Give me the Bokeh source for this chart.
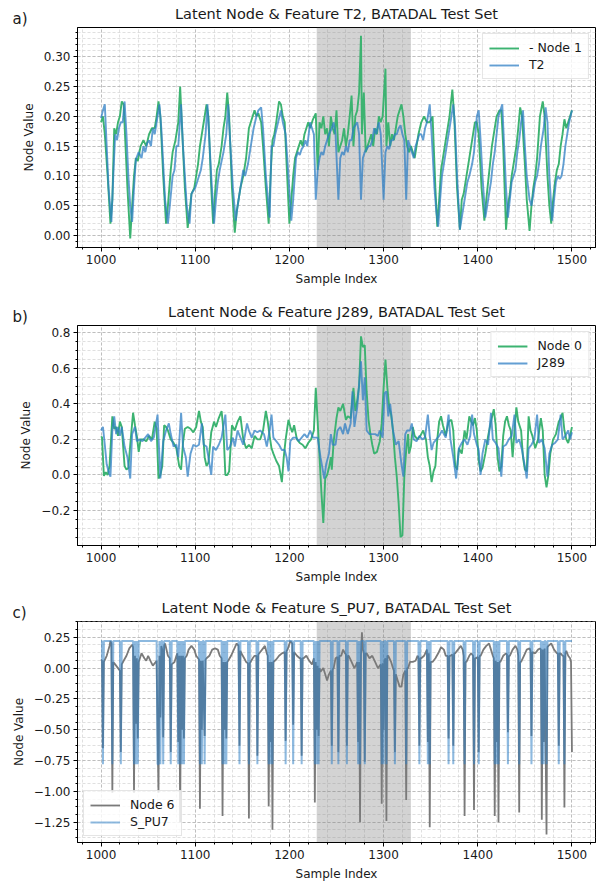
from bokeh.plotting import figure
from bokeh.layouts import column
from bokeh.models import (Range1d, SingleIntervalTicker, CustomJSTickFormatter,
                          BoxAnnotation, Title)
from bokeh.embed import file_html
from bokeh.resources import INLINE

# ---------------- data: panel a (T2) ----------------
a_node1_x = [1000,1002,1004,1007,1010,1012,1014,1016,1018,1020,1022,1024,1026,1028,1031,1033,1035,1037,1039,1042,
             1045,1048,1051,1054,1057,1059,1061,1063,1066,1069,1071,1074,1076,1079,1082,1084,1086,1089,1092,1094,
             1096,1099,1101,1103,1105,1108,1110,1112,1114,1117,1119,1121,1123,1125,1128,1130,1132,1134,1136,1139,
             1142,1144,1146,1148,1151,1154,1157,1159,1161,1163,1165,1167,1170,1172,1175,1178,1180,1182,1184,1186,
             1189,1191,1193,1195,1197,1200,1202,1204,1206,1208,1210,1212,1214,1216,1218,1220,1222,1225,1228,1230,
             1232,1234,1236,1238,1240,1242,1244,1246,1248,1250,1252,1254,1256,1258,1260,1262,1264,1266,1268,1270,
             1272,1274,1276,1277,1279,1281,1283,1285,1287,1289,1291,1293,1295,1297,1299,1302,1303,1305,1307,1309,
             1311,1313,1315,1317,1319,1321,1323,1325,1327,1329,1331,1333,1335,1337,1340,1343,1346,1349,1352,1355,
             1357,1359,1361,1363,1365,1367,1370,1373,1375,1378,1381,1383,1385,1388,1390,1393,1395,1397,1399,1401,
             1404,1407,1409,1411,1413,1415,1417,1420,1423,1425,1427,1430,1432,1434,1436,1438,1441,1443,1445,1447,
             1450,1452,1455,1457,1459,1461,1463,1466,1469,1471,1474,1476,1478,1480,1482,1484,1486,1488,1490,1492,
             1494,1496,1498,1500]
a_node1_y = [0.19,0.20,0.17,0.10,0.02,0.06,0.18,0.17,0.19,0.20,0.225,0.22,0.15,0.08,-0.005,0.05,0.10,0.13,0.125,0.15,
             0.16,0.15,0.17,0.18,0.18,0.20,0.225,0.20,0.10,0.02,0.05,0.11,0.14,0.16,0.19,0.25,0.18,0.08,0.013,0.04,
             0.07,0.08,0.10,0.12,0.15,0.18,0.20,0.22,0.20,0.08,0.02,0.07,0.11,0.12,0.15,0.18,0.20,0.24,0.20,0.08,
             0.005,0.04,0.06,0.08,0.10,0.13,0.18,0.19,0.20,0.21,0.20,0.205,0.19,0.15,0.08,0.02,0.10,0.16,0.17,0.19,
             0.225,0.22,0.20,0.19,0.12,0.02,0.06,0.10,0.13,0.14,0.15,0.16,0.15,0.17,0.18,0.19,0.18,0.195,0.205,0.11,
             0.19,0.18,0.20,0.17,0.18,0.15,0.20,0.18,0.17,0.21,0.14,0.15,0.16,0.18,0.15,0.17,0.20,0.235,0.15,0.20,
             0.21,0.24,0.335,0.17,0.24,0.14,0.15,0.16,0.17,0.15,0.18,0.17,0.20,0.19,0.20,0.28,0.15,0.19,0.15,0.17,
             0.16,0.18,0.20,0.21,0.22,0.20,0.17,0.15,0.14,0.15,0.14,0.13,0.15,0.17,0.19,0.20,0.19,0.19,0.20,0.08,
             0.015,0.06,0.11,0.13,0.15,0.17,0.20,0.245,0.20,0.08,0.01,0.06,0.07,0.10,0.12,0.15,0.17,0.19,0.19,0.17,
             0.08,0.025,0.06,0.09,0.12,0.15,0.17,0.20,0.21,0.21,0.15,0.01,0.05,0.07,0.10,0.12,0.15,0.18,0.215,0.20,
             0.12,0.06,0.008,0.05,0.08,0.10,0.13,0.20,0.225,0.20,0.10,0.05,0.02,0.06,0.09,0.11,0.12,0.15,0.17,0.195,
             0.18,0.19,0.20,0.21]
a_t2_x = [1000,1002,1004,1006,1008,1011,1013,1015,1017,1019,1021,1023,1025,1027,1029,1031,1033,1035,1037,1040,
          1043,1045,1047,1049,1051,1053,1055,1057,1059,1062,1064,1066,1068,1071,1073,1076,1078,1080,1082,1085,
          1087,1089,1091,1094,1096,1098,1100,1102,1104,1106,1108,1111,1113,1115,1117,1120,1122,1124,1126,1128,
          1130,1133,1135,1137,1140,1143,1145,1147,1149,1151,1153,1156,1159,1162,1165,1167,1170,1172,1175,1179,
          1181,1183,1185,1188,1191,1193,1196,1199,1202,1204,1207,1209,1211,1213,1215,1217,1219,1222,1224,1226,
          1228,1230,1232,1234,1236,1238,1240,1242,1245,1247,1249,1252,1254,1256,1258,1260,1262,1264,1266,1268,
          1270,1272,1274,1276,1278,1280,1282,1284,1286,1288,1290,1292,1295,1297,1300,1302,1304,1306,1308,1310,
          1312,1314,1316,1318,1320,1322,1324,1326,1328,1330,1332,1334,1336,1338,1340,1342,1344,1346,1349,1351,
          1354,1356,1358,1360,1362,1364,1366,1368,1370,1372,1374,1376,1378,1381,1383,1385,1387,1389,1391,1394,
          1396,1399,1401,1403,1405,1408,1410,1412,1414,1416,1418,1420,1422,1424,1426,1428,1430,1432,1434,1436,
          1438,1440,1442,1444,1446,1448,1450,1452,1455,1457,1459,1461,1463,1465,1467,1470,1472,1474,1476,1479,
          1481,1483,1485,1487,1489,1491,1493,1495,1497,1500]
a_t2_y = [0.197,0.21,0.22,0.15,0.08,0.023,0.10,0.17,0.16,0.18,0.19,0.19,0.225,0.17,0.10,0.05,0.023,0.08,0.128,0.14,
          0.13,0.15,0.14,0.155,0.16,0.15,0.18,0.17,0.19,0.22,0.18,0.12,0.06,0.02,0.05,0.10,0.11,0.15,0.15,0.22,
          0.15,0.10,0.05,0.02,0.07,0.075,0.08,0.09,0.10,0.11,0.13,0.17,0.22,0.16,0.10,0.02,0.06,0.09,0.11,0.125,
          0.14,0.17,0.22,0.16,0.08,0.025,0.05,0.07,0.09,0.11,0.10,0.12,0.15,0.18,0.20,0.21,0.215,0.18,0.10,0.03,
          0.15,0.15,0.17,0.19,0.21,0.19,0.17,0.10,0.025,0.06,0.13,0.14,0.135,0.145,0.15,0.16,0.15,0.19,0.18,0.17,
          0.06,0.11,0.13,0.14,0.135,0.15,0.16,0.17,0.18,0.19,0.17,0.06,0.13,0.14,0.135,0.15,0.14,0.16,0.16,0.18,
          0.185,0.19,0.17,0.06,0.13,0.14,0.145,0.15,0.15,0.16,0.18,0.17,0.19,0.17,0.06,0.14,0.15,0.145,0.16,0.16,
          0.17,0.17,0.18,0.185,0.17,0.16,0.06,0.16,0.15,0.14,0.13,0.15,0.16,0.17,0.17,0.16,0.18,0.19,0.22,0.17,
          0.08,0.04,0.015,0.06,0.10,0.12,0.14,0.16,0.18,0.20,0.22,0.18,0.10,0.01,0.03,0.05,0.07,0.09,0.10,0.12,
          0.14,0.20,0.21,0.16,0.10,0.03,0.05,0.07,0.09,0.12,0.14,0.17,0.20,0.21,0.22,0.15,0.08,0.03,0.06,0.09,
          0.10,0.11,0.14,0.16,0.19,0.21,0.15,0.10,0.06,0.05,0.07,0.09,0.10,0.12,0.15,0.18,0.215,0.19,0.10,0.025,
          0.06,0.09,0.10,0.095,0.10,0.12,0.15,0.17,0.19,0.21]

# ---------------- data: panel b (J289) ----------------
b_node0_x = [1000,1001,1003,1005,1007,1009,1012,1014,1016,1018,1020,1022,1025,1027,1029,1031,1034,1036,1038,1040,
             1042,1045,1048,1051,1054,1057,1059,1061,1063,1065,1067,1069,1071,1074,1077,1080,1083,1085,1087,1089,
             1092,1095,1098,1101,1104,1106,1108,1110,1112,1114,1117,1120,1122,1125,1128,1130,1132,1134,1136,1139,
             1142,1145,1148,1151,1154,1157,1160,1163,1166,1169,1172,1175,1177,1179,1181,1183,1186,1189,1192,1194,
             1196,1199,1201,1203,1205,1208,1211,1214,1217,1220,1223,1226,1228,1230,1232,1234,1236,1238,1240,1242,
             1244,1245,1247,1250,1252,1254,1257,1260,1262,1265,1268,1270,1272,1274,1276,1278,1280,1282,1284,1286,
             1288,1290,1293,1296,1298,1300,1302,1304,1306,1308,1310,1312,1314,1316,1318,1320,1322,1324,1326,1327,
             1329,1331,1333,1336,1339,1342,1345,1347,1349,1351,1353,1355,1357,1359,1361,1363,1366,1369,1372,1374,
             1376,1378,1380,1383,1386,1388,1391,1393,1395,1397,1399,1401,1403,1405,1408,1411,1414,1417,1419,1421,
             1423,1425,1427,1429,1431,1433,1435,1437,1439,1441,1443,1446,1448,1450,1452,1454,1456,1458,1461,1464,
             1467,1469,1471,1473,1475,1477,1480,1483,1486,1488,1490,1492,1494,1496,1498,1500]
b_node0_y = [0.21,0.215,-0.005,0.015,0.0,0.05,0.33,0.26,0.27,0.22,0.30,0.27,0.05,0.03,0.04,0.17,0.35,0.28,0.22,0.13,
             0.20,0.20,0.19,0.22,0.20,0.30,0.26,-0.02,0.0,0.05,0.28,0.27,0.25,0.20,0.18,0.15,0.05,0.03,0.18,0.26,
             0.27,0.26,0.24,0.27,0.36,0.30,0.27,0.10,0.05,0.07,0.24,0.30,0.27,0.32,0.36,0.25,0.0,0.0,0.02,0.28,
             0.25,0.30,0.33,0.20,0.15,0.17,0.15,0.22,0.20,0.20,0.25,0.36,0.30,0.22,0.15,0.12,0.08,0.05,-0.04,0.10,
             0.20,0.31,0.27,0.24,0.28,0.20,0.18,0.17,0.15,0.18,0.20,0.25,0.49,0.30,0.10,-0.10,-0.27,-0.02,0.0,0.04,
             0.10,0.03,0.19,0.32,0.38,0.36,0.40,0.31,0.33,0.32,0.49,0.36,0.42,0.50,0.78,0.72,0.73,0.47,0.31,0.23,
             0.17,0.12,0.13,0.19,0.29,0.49,0.65,0.49,0.38,0.34,0.25,0.10,-0.01,-0.16,-0.35,-0.34,-0.01,0.14,0.23,0.12,
             0.16,0.27,0.22,0.20,0.22,0.25,0.20,0.10,0.05,-0.04,0.02,0.05,0.20,0.30,0.33,0.28,0.22,0.30,0.31,0.25,
             0.05,0.03,0.15,0.12,0.25,0.20,0.33,0.30,0.28,0.32,0.25,0.08,0.02,0.04,0.12,0.22,0.30,0.37,0.28,0.10,
             0.02,0.05,0.22,0.30,0.33,0.28,0.25,0.10,0.25,0.38,0.30,0.25,0.10,0.03,0.02,0.33,0.25,0.22,0.15,0.20,
             0.32,0.25,0.0,-0.07,0.0,0.12,0.20,0.23,0.30,0.32,0.35,0.25,0.20,0.18,0.22,0.27]
b_j289_x = [1000,1002,1004,1006,1008,1010,1012,1014,1016,1018,1020,1022,1025,1028,1031,1033,1036,1038,1041,1044,
            1047,1050,1053,1056,1060,1063,1066,1069,1072,1074,1077,1080,1082,1085,1087,1090,1092,1095,1098,1101,
            1104,1107,1109,1112,1114,1117,1119,1122,1125,1128,1132,1134,1137,1140,1142,1145,1148,1151,1155,1157,
            1160,1163,1166,1169,1173,1176,1179,1181,1183,1186,1189,1192,1195,1197,1199,1201,1204,1207,1210,1213,
            1216,1219,1222,1225,1228,1230,1233,1237,1239,1242,1244,1246,1249,1251,1254,1257,1259,1262,1265,1267,
            1269,1272,1276,1278,1280,1282,1285,1288,1291,1294,1296,1299,1301,1303,1305,1307,1310,1313,1316,1319,
            1321,1323,1325,1328,1330,1332,1335,1338,1341,1344,1347,1349,1351,1353,1356,1359,1362,1366,1369,1371,
            1374,1377,1380,1383,1386,1389,1392,1394,1396,1399,1401,1403,1405,1408,1411,1414,1416,1419,1422,1425,
            1427,1430,1433,1436,1439,1441,1444,1447,1450,1452,1454,1457,1460,1463,1465,1468,1471,1474,1476,1479,
            1482,1485,1488,1490,1493,1496,1498,1500]
b_j289_y = [0.25,0.27,0.17,0.06,0.02,-0.01,0.25,0.33,0.23,0.27,0.22,0.27,0.16,0.10,-0.02,0.23,0.27,0.19,0.20,0.19,
            0.21,0.23,0.19,0.21,0.34,-0.02,0.19,0.25,0.29,0.23,0.16,0.17,0.10,0.35,0.16,0.10,-0.01,0.12,0.17,0.16,
            0.17,0.29,0.17,0.16,0.10,0.0,0.16,0.14,0.17,0.21,0.34,0.14,0.16,0.21,0.16,0.25,0.21,0.17,0.29,0.25,
            0.21,0.25,0.24,0.25,0.23,0.16,0.25,0.34,0.21,0.19,0.17,0.14,0.14,0.10,0.02,0.19,0.21,0.21,0.19,0.21,
            0.23,0.21,0.25,0.21,0.21,0.21,0.10,-0.02,0.06,0.12,0.23,0.17,0.17,0.25,0.27,0.23,0.29,0.23,0.29,0.47,
            0.27,0.38,0.64,0.42,0.55,0.25,0.23,0.23,0.23,0.22,0.25,0.21,0.46,0.47,0.33,0.40,0.25,0.17,0.19,0.06,
            -0.01,0.23,0.25,0.25,0.29,0.20,0.19,0.22,0.20,0.21,0.34,0.22,0.14,0.18,0.20,0.22,0.25,0.21,0.34,0.20,
            0.10,-0.02,0.15,0.18,0.20,0.17,0.22,0.34,0.23,0.17,0.14,0.0,0.12,0.20,0.17,0.35,0.20,0.18,0.15,-0.01,
            0.16,0.17,0.20,0.22,0.34,0.18,0.20,0.14,0.05,-0.02,0.15,0.17,0.20,0.34,0.18,0.20,0.15,-0.01,0.12,0.17,
            0.18,0.20,0.34,0.20,0.22,0.25,0.20,0.24]

# ---------------- data: panel c (S_PU7) ----------------
c_node6_x = [1000,1001,1002,1003,1006,1009,1010,1011,1012,1013,1015,1018,1020,1021,1022,1024,1027,1030,1033,1034,
             1035,1036,1037,1038,1039,1040,1043,1046,1048,1050,1053,1055,1058,1059,1060,1061,1062,1063,1064,1065,
             1066,1067,1068,1071,1073,1074,1075,1078,1080,1081,1082,1083,1084,1085,1086,1087,1088,1089,1091,1093,
             1096,1099,1101,1103,1104,1105,1106,1107,1108,1110,1111,1112,1115,1118,1121,1124,1126,1128,1129,1130,
             1131,1132,1133,1134,1135,1138,1141,1144,1146,1147,1148,1149,1152,1154,1156,1157,1158,1161,1163,1165,
             1166,1167,1168,1171,1174,1176,1177,1178,1179,1180,1181,1182,1183,1186,1189,1192,1195,1196,1197,1198,
             1201,1203,1204,1205,1206,1208,1211,1212,1213,1214,1215,1218,1221,1224,1226,1227,1228,1229,1230,1231,
             1232,1233,1236,1238,1240,1242,1244,1245,1246,1247,1249,1251,1252,1253,1255,1257,1259,1260,1261,1262,
             1263,1266,1269,1271,1272,1273,1274,1275,1276,1277,1278,1279,1280,1281,1282,1285,1288,1291,1294,1296,
             1297,1298,1299,1300,1301,1302,1303,1304,1305,1308,1310,1311,1312,1313,1315,1317,1319,1321,1323,1324,
             1325,1326,1328,1331,1334,1336,1337,1338,1339,1340,1343,1346,1347,1348,1349,1350,1352,1355,1358,1361,
             1364,1366,1368,1369,1370,1371,1373,1374,1375,1376,1379,1382,1384,1385,1386,1387,1388,1391,1393,1395,
             1396,1397,1398,1400,1401,1402,1403,1406,1409,1412,1414,1416,1417,1418,1419,1420,1421,1422,1423,1424,
             1427,1430,1431,1432,1433,1434,1437,1440,1442,1443,1444,1445,1446,1449,1452,1455,1456,1457,1458,1461,
             1464,1466,1467,1468,1469,1470,1471,1473,1474,1475,1478,1481,1484,1485,1486,1487,1488,1490,1491,1492,
             1493,1494,1496,1498,1499,1500]
c_node6_y = [0.07,0.06,-0.65,0.05,0.10,0.18,0.22,0.20,-1.01,0.05,0.03,0.0,-0.02,-0.68,0.03,0.06,0.10,0.16,0.19,0.17,
             -1.01,0.10,-0.45,0.08,-0.57,0.05,0.12,0.08,0.06,0.10,0.05,0.02,0.05,0.06,-0.50,-1.01,0.10,-0.40,0.18,0.15,
             -0.56,0.18,0.20,0.10,0.08,-0.68,0.03,0.05,0.10,0.12,-0.60,0.10,-1.25,0.10,-0.50,0.10,-0.57,0.08,0.10,0.15,
             0.18,0.15,0.10,0.08,0.07,-1.14,0.06,-0.50,0.06,-0.55,0.07,0.08,0.10,0.15,0.16,0.15,0.10,0.08,-1.20,0.05,
             -0.50,0.05,-0.57,0.05,0.06,0.10,0.15,0.20,0.18,-0.63,0.14,0.12,0.08,0.05,0.04,-1.22,0.04,0.08,0.10,0.10,
             -0.71,0.11,0.12,0.15,0.18,0.12,0.10,-1.12,0.05,-0.60,0.05,-1.31,0.05,0.07,0.10,0.12,0.13,-0.59,0.14,0.15,
             0.22,0.20,-0.46,0.13,0.12,0.10,0.08,0.08,-0.71,0.08,0.08,0.10,0.06,0.03,0.08,-1.09,0.05,-0.50,0.02,-0.55,
             0.0,-0.03,0.0,-0.05,-0.10,-0.05,-0.02,-0.63,-0.01,0.0,0.08,0.09,-0.68,0.10,0.10,0.15,0.12,0.11,-0.63,0.10,
             0.10,0.05,0.0,0.03,0.05,-0.60,0.05,-1.25,0.10,0.29,0.15,0.12,-0.76,0.12,0.12,0.08,0.10,0.05,0.0,0.02,
             0.03,-1.10,0.04,-0.50,0.06,0.08,-1.24,0.10,0.10,0.05,0.0,-0.02,-0.68,-0.05,-0.10,-0.15,-0.15,-0.05,-0.02,-1.07,
             0.0,0.0,0.05,0.05,0.06,0.10,0.09,-0.63,0.08,0.08,0.10,0.15,-0.60,0.12,-1.29,0.05,0.05,0.08,0.12,0.17,
             0.15,0.10,0.10,-0.57,0.10,0.10,0.11,-0.63,0.12,0.12,0.15,0.18,0.15,0.10,-1.20,0.05,0.05,0.10,0.12,0.10,
             -1.15,0.08,0.08,0.09,-0.68,0.10,0.10,0.15,0.18,0.20,0.15,0.10,0.08,-1.20,0.06,-0.60,0.05,-1.25,0.05,0.05,
             0.10,0.12,0.11,-0.52,0.10,0.10,0.15,0.18,0.15,0.10,-1.17,0.05,0.05,0.10,0.15,0.16,0.14,-0.55,0.13,0.12,
             0.15,0.16,0.15,-1.23,0.15,-0.60,0.16,-1.35,0.17,0.18,0.20,0.15,0.12,0.12,-0.63,0.12,0.12,0.10,0.10,-1.13,
             0.12,0.14,0.10,0.08,0.05,-0.68]
# S_PU7 pump status: two levels, samples 1000..1500, with the samples at which it is off
spu7_on, spu7_off_level = 0.22, -0.78
spu7_off_samples = [1002,1012,1021,1035,1037,1039,1060,1061,1063,1066,1074,1082,1084,1086,1088,1105,1107,1110,
                    1129,1131,1133,1147,1157,1166,1178,1180,1182,1196,1204,1213,1227,1229,1231,1245,1252,1261,
                    1273,1275,1280,1298,1300,1303,1312,1324,1338,1347,1349,1369,1374,1386,1396,1401,1418,1420,
                    1422,1432,1444,1457,1468,1470,1473,1486,1492]
c_spu7_x = list(range(1000, 1501))
c_spu7_y = [spu7_off_level if s in spu7_off_samples else spu7_on for s in c_spu7_x]

attack_start, attack_end = 1229, 1329
x_ticks_interval = 100

FONT = "DejaVu Sans"
GREEN = "#3cb371"
BLUE = "#2f7fc4"
FRAME_W, FRAME_H = 518, 220


def minus_fmt(decimals):
    return CustomJSTickFormatter(code=(
        "const v = Math.abs(tick) < 1e-9 ? 0 : tick;"
        "return (v < 0 ? '\\u2212' : '') + Math.abs(v).toFixed(%d);" % decimals))


def make_panel(title, letter, y_lo, y_hi, y_int, y_minor, y_dec, top_border, frame_h):
    p = figure(frame_width=FRAME_W, frame_height=frame_h, output_backend="svg", toolbar_location=None,
               x_range=Range1d(975, 1525), y_range=Range1d(y_lo, y_hi),
               min_border_left=77, min_border_right=5, min_border_top=top_border,
               min_border_bottom=42)
    # main title: zero-height slot stacked on top of the letter slot
    p.title.text = title
    p.title.align = "center"
    p.title.text_font = FONT
    p.title.text_font_size = "14.5px"
    p.title.text_font_style = "normal"
    p.title.text_color = "#1a1a1a"
    p.title.standoff = -18.5
    # panel letter, next to the frame
    p.add_layout(Title(text=letter, align="left", vertical_align="top", offset=-65, standoff=-5.5,
                       text_font=FONT, text_font_size="15px", text_font_style="normal",
                       text_color="#1a1a1a"), "above")
    p.outline_line_color = "black"
    p.outline_line_width = 1
    p.outline_line_alpha = 1

    p.xaxis.ticker = SingleIntervalTicker(interval=x_ticks_interval, num_minor_ticks=5)
    p.yaxis.ticker = SingleIntervalTicker(interval=y_int, num_minor_ticks=y_minor)
    p.yaxis.formatter = minus_fmt(y_dec)
    for ax in (p.xaxis[0], p.yaxis[0]):
        ax.axis_line_color = "black"
        ax.major_tick_line_color = "black"
        ax.minor_tick_line_color = "black"
        ax.major_tick_out = 4
        ax.major_tick_in = 0
        ax.minor_tick_out = 2
        ax.minor_tick_in = 0
        ax.major_label_text_font = FONT
        ax.major_label_text_font_size = "12px"
        ax.major_label_text_color = "#1a1a1a"
        ax.axis_label_text_font = FONT
        ax.axis_label_text_font_size = "12px"
        ax.axis_label_text_font_style = "normal"
        ax.axis_label_text_color = "#1a1a1a"
        ax.major_label_standoff = 3
        ax.axis_label_standoff = 5
    p.xaxis.axis_label = "Sample Index"
    p.yaxis.axis_label = "Node Value"

    for g in (p.xgrid[0], p.ygrid[0]):
        g.grid_line_color = "#b5b5b5"
        g.grid_line_dash = "3 2"
        g.grid_line_width = 0.8
        g.minor_grid_line_color = "#d2d2d2"
        g.minor_grid_line_dash = "3 2"
        g.minor_grid_line_width = 0.7

    shade = BoxAnnotation(left=attack_start, right=attack_end, fill_color="gray",
                          fill_alpha=0.35, line_alpha=0, level="underlay")
    p.add_layout(shade)
    return p


def style_legend(p, loc):
    lg = p.legend[0]
    lg.location = loc
    lg.label_text_font = FONT
    lg.label_text_font_size = "12.5px"
    lg.label_text_color = "#1a1a1a"
    lg.border_line_color = "#cccccc"
    lg.border_line_width = 1
    lg.background_fill_alpha = 0.8
    lg.glyph_width = 30
    lg.glyph_height = 14
    lg.label_standoff = 10
    lg.spacing = 2
    lg.padding = 6
    lg.margin = 6
    lg.label_height = 14


# panel a
pa = make_panel("Latent Node & Feature T2, BATADAL Test Set", "a)", -0.020, 0.349, 0.05, 5, 2, 27, FRAME_H)
pa.line(a_node1_x, a_node1_y, line_color=GREEN, line_width=1.9, legend_label="- Node 1")
pa.line(a_t2_x, a_t2_y, line_color=BLUE, line_alpha=0.75, line_width=1.9, legend_label="T2")
style_legend(pa, "top_right")

# panel b
pb = make_panel("Latent Node & Feature J289, BATADAL Test Set", "b)", -0.397, 0.841, 0.2, 4, 1, 36, FRAME_H)
pb.line(b_node0_x, b_node0_y, line_color=GREEN, line_width=1.9, legend_label="Node 0")
pb.line(b_j289_x, b_j289_y, line_color=BLUE, line_alpha=0.75, line_width=1.9, legend_label="J289")
style_legend(pb, "top_right")

# panel c
pc = make_panel("Latent Node & Feature S_PU7, BATADAL Test Set", "c)", -1.414, 0.378, 0.25, 4, 2, 34, 221)
pc.line(c_node6_x, c_node6_y, line_color="#7a7a7a", line_width=1.8, legend_label="Node 6")
pc.line(c_spu7_x, c_spu7_y, line_color=BLUE, line_alpha=0.55, line_width=2.0, legend_label="S_PU7")
style_legend(pc, "bottom_left")

layout = column(pa, pb, pc, spacing=0)
open("out.html", "w").write(file_html(layout, INLINE))
